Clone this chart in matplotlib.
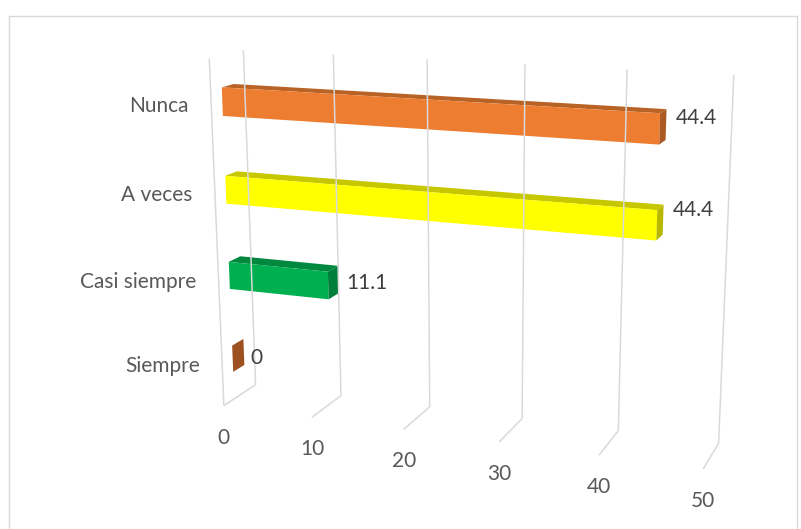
import numpy as np
import matplotlib
matplotlib.use("Agg")
import matplotlib.pyplot as plt
from matplotlib.patches import Polygon, Rectangle
from matplotlib.colors import to_rgb

# --- data ---------------------------------------------------------------
categories = ["Siempre", "Casi siempre", "A veces", "Nunca"]
values = [0, 11.1, 44.4, 44.4]
value_ticks = [0, 10, 20, 30, 40, 50]

# --- style / layout -----------------------------------------------------
bar_colors = ["#DB712C", "#00B050", "#FFFF00", "#ED7D31"]
label_dy_px = [3, 1, -12, -9]          # vertical nudge of the value labels
grid_color = "#D9D9D9"
text_color = "#595959"
value_color = "#404040"
font = "Lato"

# perspective camera: world (value, category height, depth) -> canvas pixels
CAMERA = np.array([
    [8.185600668, -6.519279205, 41.54215515, 223.8637074],
    [0.3351507425, -87.55404119, -6.07901519, 405.5823069],
    [-1.989811003e-3, -1.374388678e-2, 3.837228611e-2, 1.0],
])
WALL_TOP = len(categories)          # category axis spans 0..n
BAR_HALF = 0.16                     # half bar thickness (category units)
BAR_SHIFT = -0.01
Z_FRONT, Z_BACK = 0.32, 0.67        # bar depth inside the 0..1 box


def proj(X, Y, Z):
    h = CAMERA @ np.array([X, Y, Z, 1.0])
    return h[0] / h[2], h[1] / h[2]


def shade(color, f):
    r, g, b = to_rgb(color)
    return (r * f, g * f, b * f)


fig = plt.figure(figsize=(8.01, 5.29), dpi=100)
ax = fig.add_axes([0, 0, 1, 1])
ax.set_xlim(0, 801)
ax.set_ylim(529, 0)
ax.axis("off")

# chart area border
ax.add_patch(Rectangle((9, 16), 788, 530, fill=False, ec=grid_color, lw=1.0))

# back wall gridlines and floor lines
for t in value_ticks:
    (x0, y0), (x1, y1) = proj(t, 0, 1), proj(t, WALL_TOP, 1)
    ax.plot([x0, x1], [y0, y1], color=grid_color, lw=1.1, solid_capstyle="butt")
    (x2, y2) = proj(t, 0, 0)
    ax.plot([x0, x2], [y0, y2], color=grid_color, lw=1.1, solid_capstyle="butt")
    ax.annotate(str(t), (x2, y2), xytext=(0, -23), textcoords="offset points",
                ha="center", va="center", fontsize=15, family=font, color=text_color)

# front edge of the side wall
(x0, y0), (x1, y1) = proj(0, 0, 0), proj(0, WALL_TOP, 0)
ax.plot([x0, x1], [y0, y1], color=grid_color, lw=1.1, solid_capstyle="butt")

# bars
for i, (cat, val) in enumerate(zip(categories, values)):
    c = i + 0.5 + BAR_SHIFT
    ya, yb = c - BAR_HALF, c + BAR_HALF
    col = bar_colors[i]
    front = [proj(0, ya, Z_FRONT), proj(val, ya, Z_FRONT),
             proj(val, yb, Z_FRONT), proj(0, yb, Z_FRONT)]
    top = [proj(0, yb, Z_FRONT), proj(val, yb, Z_FRONT),
           proj(val, yb, Z_BACK), proj(0, yb, Z_BACK)]
    end = [proj(val, ya, Z_FRONT), proj(val, ya, Z_BACK),
           proj(val, yb, Z_BACK), proj(val, yb, Z_FRONT)]
    if val > 0:
        ax.add_patch(Polygon(top, closed=True, fc=shade(col, 0.78), ec="none"))
        ax.add_patch(Polygon(front, closed=True, fc=col, ec="none"))
    ax.add_patch(Polygon(end, closed=True, fc=shade(col, 0.72), ec="none"))

    # value label next to the bar end
    ex, ey = proj(val, c, 0.5 * (Z_FRONT + Z_BACK))
    ax.annotate(f"{val:g}", (ex, ey), xytext=(9, -0.72 * label_dy_px[i]),
                textcoords="offset points", ha="left", va="center",
                fontsize=15, family=font, color=value_color)

    # category label left of the side wall
    lx, ly = proj(0, c, 0)
    ax.annotate(cat, (lx, ly), xytext=(-16, -0.8), textcoords="offset points",
                ha="right", va="center", fontsize=15, family=font, color=text_color)

fig.savefig("out.png", dpi=100)
